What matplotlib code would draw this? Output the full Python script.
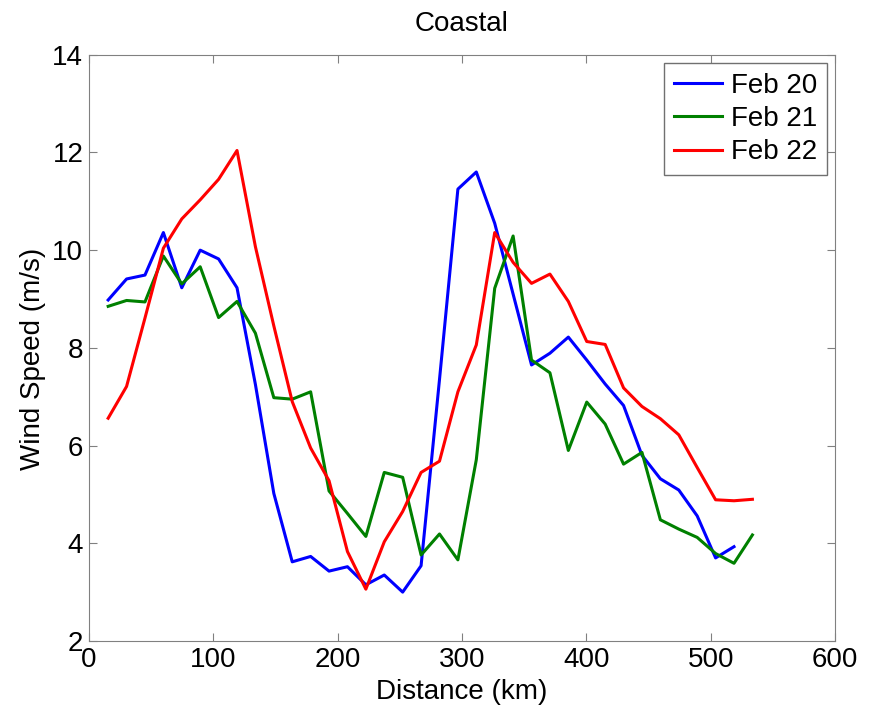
import matplotlib; matplotlib.use('Agg')
import matplotlib.pyplot as plt

plt.rcParams.update({'font.family': 'Liberation Sans', 'font.size': 20})

# distance along track (km)
dist = [15.5, 30.3, 45.1, 59.9, 74.7, 89.5, 104.3, 119.1, 133.9, 148.7, 163.5, 178.3,
        193.1, 207.9, 222.7, 237.5, 252.3, 267.1, 281.9, 296.7, 311.5, 326.3, 341.1, 355.9,
        370.7, 385.5, 400.3, 415.1, 429.9, 444.7, 459.5, 474.3, 489.1, 503.9, 518.7, 533.5]

feb20 = [8.98, 9.41, 9.49, 10.36, 9.23, 10.0, 9.82, 9.23, 7.25, 5.02, 3.62, 3.73,
         3.43, 3.52, 3.15, 3.35, 3.0, 3.54, 7.35, 11.25, 11.6, 10.55, 9.1, 7.65,
         7.89, 8.22, 7.75, 7.26, 6.82, 5.8, 5.32, 5.09, 4.56, 3.70, 3.93]
feb21 = [8.85, 8.97, 8.94, 9.88, 9.31, 9.66, 8.62, 8.95, 8.30, 6.98, 6.95, 7.1,
         5.07, 4.61, 4.14, 5.45, 5.35, 3.76, 4.19, 3.66, 5.71, 9.22, 10.29, 7.75,
         7.49, 5.90, 6.89, 6.44, 5.62, 5.86, 4.48, 4.29, 4.12, 3.79, 3.59, 4.17]
feb22 = [6.56, 7.21, 8.61, 10.04, 10.64, 11.03, 11.45, 12.04, 10.07, 8.45, 6.9, 5.95,
         5.28, 3.83, 3.06, 4.03, 4.65, 5.45, 5.68, 7.1, 8.06, 10.36, 9.75, 9.32,
         9.51, 8.95, 8.13, 8.07, 7.18, 6.80, 6.55, 6.22, 5.55, 4.89, 4.87, 4.90]

fig = plt.figure(figsize=(8.8, 7.11), dpi=100)
ax = fig.add_axes([0.101, 0.0985, 0.848, 0.8245])

ax.plot(dist[:len(feb20)], feb20, color='#0000ff', lw=2.2, label='Feb 20')
ax.plot(dist, feb21, color='#008000', lw=2.2, label='Feb 21')
ax.plot(dist, feb22, color='#ff0000', lw=2.2, label='Feb 22')

ax.set_xlim(0, 600); ax.set_ylim(2, 14)
ax.set_xticks(range(0, 601, 100)); ax.set_yticks(range(2, 15, 2))
ax.tick_params(direction='in', top=True, right=True, length=6, color='#808080', pad=4)
for s in ax.spines.values():
    s.set_color('#808080')

ax.set_xlabel('Distance (km)', labelpad=5)
ax.set_ylabel('Wind Speed (m/s)')
ax.yaxis.set_label_coords(-0.058, 0.481)
ax.set_title('Coastal', fontsize=20, pad=17)

leg = ax.legend(loc='upper right', fancybox=False, framealpha=1, borderaxespad=0.3,
                handlelength=1.75, handletextpad=0.3, labelspacing=0.26, borderpad=0.35)
leg.get_frame().set_edgecolor('#707070')
leg.get_frame().set_linewidth(1.0)

fig.savefig('out.png', dpi=100)
